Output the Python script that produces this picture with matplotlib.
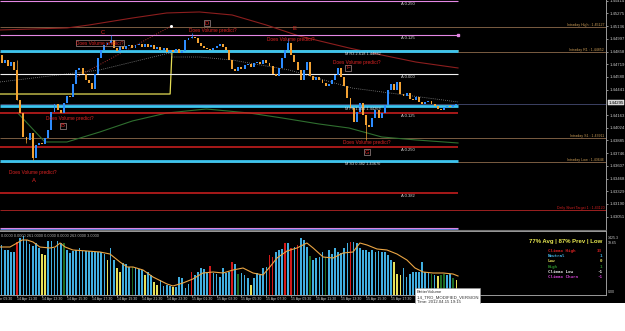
import matplotlib
matplotlib.use("Agg")
import matplotlib.pyplot as plt
import matplotlib.transforms as mtransforms
from matplotlib.patches import Rectangle

plt.rcParams['font.family'] = ['Liberation Sans', 'DejaVu Sans']

W, H = 625, 331

# ---- price pane: 15 min candles ----
first_open = 1.44820
closes = [
    1.44732, 1.44765, 1.44700, 1.44743, 1.44656, 1.44328, 1.44185, 1.43923, 1.43890, 1.43966,
    1.43693, 1.43835, 1.43857, 1.43846, 1.43912, 1.43999, 1.44196, 1.44284, 1.44218, 1.44185,
    1.44295, 1.44371, 1.44360, 1.44503, 1.44656, 1.44678, 1.44612, 1.44546, 1.44514, 1.44448,
    1.44612, 1.44787, 1.44875, 1.44929, 1.44951, 1.44984, 1.44897, 1.44864, 1.44919, 1.44886,
    1.44919, 1.44929, 1.44897, 1.44929, 1.44940, 1.44908, 1.44940, 1.44908, 1.44929, 1.44886,
    1.44908, 1.44875, 1.44897, 1.44853, 1.44875, 1.44853, 1.44886, 1.44842, 1.44864, 1.44984,
    1.45006, 1.45017, 1.45006, 1.44951, 1.44919, 1.44897, 1.44886, 1.44875, 1.44897, 1.44919,
    1.44940, 1.44908, 1.44875, 1.44765, 1.44667, 1.44645, 1.44689, 1.44667, 1.44711, 1.44722,
    1.44689, 1.44732, 1.44743, 1.44722, 1.44765, 1.44732, 1.44700, 1.44612, 1.44590, 1.44678,
    1.44787, 1.44875, 1.44951, 1.44820, 1.44743, 1.44656, 1.44546, 1.44656, 1.44743, 1.44590,
    1.44546, 1.44579, 1.44546, 1.44514, 1.44481, 1.44503, 1.44546, 1.44601, 1.44678, 1.44579,
    1.44481, 1.44349, 1.44240, 1.44087, 1.44196, 1.44295, 1.44163, 1.44054, 1.44032, 1.44131,
    1.44218, 1.44131, 1.44185, 1.44273, 1.44437, 1.44503, 1.44437, 1.44525, 1.44393, 1.44371,
    1.44404, 1.44338, 1.44328, 1.44360, 1.44306, 1.44284, 1.44306, 1.44317, 1.44284, 1.44262,
    1.44229, 1.44218, 1.44251, 1.44262, 1.44251, 1.44273, 1.44284,
]
wick_highs = {5: 1.44765, 35: 1.45039, 61: 1.45061, 92: 1.45006}
wick_lows = {8: 1.43857, 10: 1.43671, 117: 1.43890}
current_price = 1.44295

# moving averages / indicator lines (bar index, price)
slow_ma_x = [-0.5, 21, 28, 42, 53, 63.5, 74, 85, 95.5, 111.5, 122, 133, 146.5]
slow_ma_y = [1.45094, 1.45116, 1.45148, 1.45225, 1.45280, 1.45291, 1.45258, 1.45148,
             1.45028, 1.44897, 1.44820, 1.44743, 1.44678]
green_ma_x = [5.2, 13.9, 21, 31.5, 42, 53, 65.7, 79.5, 90, 101.9, 111.5, 122, 133, 146.5]
green_ma_y = [1.44185, 1.43868, 1.43868, 1.43977, 1.44098, 1.44185, 1.44229, 1.44185,
              1.44131, 1.44065, 1.44021, 1.43923, 1.43890, 1.43857]
grey_dot_x = [-0.5, 31.5, 53.9, 54.9, 63.5, 74, 92.3, 112.4, 146.5]
grey_dot_y = [1.44525, 1.44656, 1.44842, 1.44798, 1.44798, 1.44765, 1.44656, 1.44459, 1.44306]
red_dot_x = [23.5, 54.5]
red_dot_y = [1.44568, 1.45137]
step_x = [-0.5, 54.1, 54.7, 146.5]
step_y = [1.44393, 1.44393, 1.44864, 1.44864]

# horizontal levels
fib_levels = [1.45411, 1.45039, 1.44612, 1.44185, 1.43813, 1.43310]
fib_names = ["A 0.250", "A 0.125", "A 0.000", "A 0.125", "A 0.250", "A 0.382"]
pivot_levels = [1.44864, 1.44262, 1.43660]
pivot_names = ["M R3 2.618 1.44882", "M PP 1.000 1.44268", "M S3 0.382 1.43670"]
intraday_levels = [1.45127, 1.44853, 1.43911, 1.43646]
intraday_names = ["Intraday High : 1.45127", "Intraday R1 : 1.44852",
                  "Intraday S1 : 1.43911", "Intraday Low : 1.43646"]
target_level = 1.43120
target_name = "Daily Short Target 1 : 1.43120"

price_ticks = [1.45414, 1.45275, 1.45136, 1.44997, 1.44858, 1.44719, 1.44580, 1.44441,
               1.44163, 1.44024, 1.43885, 1.43746, 1.43607, 1.43468, 1.43329, 1.43190, 1.43051]

# ---- volume pane ----
volumes = [
    250, 225, 225, 215, 215, 265, 285, 295, 275, 255,
    245, 260, 235, 205, 200, 270, 270, 235, 270, 260,
    260, 225, 210, 220, 225, 235, 220, 220, 220, 215,
    215, 215, 215, 205, 175, 235, 175, 135, 115, 160,
    155, 140, 140, 135, 130, 125, 100, 115, 100, 65,
    50, 75, 45, 50, 45, 40, 40, 90, 85, 35,
    55, 115, 100, 115, 135, 130, 115, 145, 110, 105,
    90, 135, 110, 115, 165, 155, 105, 110, 100, 85,
    50, 85, 110, 100, 135, 140, 200, 190, 215, 225,
    230, 260, 260, 235, 240, 250, 285, 275, 240, 195,
    175, 185, 190, 215, 190, 225, 205, 235, 215, 210,
    235, 260, 265, 265, 260, 235, 225, 225, 215, 225,
    215, 220, 215, 215, 200, 175, 165, 105, 100, 135,
    90, 105, 115, 115, 115, 165, 115, 115, 105, 100,
    95, 100, 105, 100, 105, 85, 75,
]
vol_types = list(
    "NNNNNRNNNN" "NNNYYNNNNN" "GNNNNNNNNN" "NNNNYNNYYN" "NNGNNNYNNY"
    "YNNNNYNNNN" "NRNNNNNRNN" "NNNNRNGNNN" "YNNNNNRRNN" "NRNRNRNNNG"
    "NNNNGNNNNN" "NNRNNNNNNN" "NNNNNNYYYN" "NNNNNNNNGN" "YGGNNGY"
)
vol_ma_x = [-0.5, 2.7, 5, 6.6, 8.2, 10.1, 12.3, 15.5, 17.2, 18.8, 20.4, 22.9, 27.4, 31.6,
            34.8, 38, 40.3, 42.2, 45.4, 48.6, 53.1, 55, 58.2, 61.4, 64.6, 67.9, 71.1, 74.3,
            77.5, 80.7, 83.9, 86.1, 88.4, 91.6, 94.8, 98, 100, 103.2, 106.4, 109.6, 112.8,
            115, 117.3, 120.5, 123.7, 126.9, 130.1, 132.7, 135.3, 138.5, 141.7, 144.9, 146.5]
vol_ma_y = [240, 240, 260, 275, 275, 265, 240, 235, 240, 260, 240, 225, 220, 215,
            205, 165, 140, 140, 125, 90, 55, 45, 60, 80, 110, 115, 110, 125,
            135, 110, 100, 140, 185, 220, 235, 260, 235, 190, 185, 210, 215,
            260, 250, 230, 225, 205, 175, 135, 115, 110, 110, 105, 95]

legend_names = ["Climax High", "Neutral", "Low", "High", "Climax Low", "Climax Churn"]
legend_counts = ["33", "1", "0", "1", "-1", "-1"]
# the last two labels sit under the tooltip in the screenshot, so they are left out
time_labels = ["14 Apr 09:30", "14 Apr 11:30", "14 Apr 13:30", "14 Apr 15:30", "14 Apr 17:30",
               "14 Apr 19:30", "14 Apr 21:30", "14 Apr 23:30", "15 Apr 01:30", "15 Apr 03:30",
               "15 Apr 05:30", "15 Apr 07:30", "15 Apr 09:30", "15 Apr 11:30", "15 Apr 13:30",
               "15 Apr 15:30", "15 Apr 17:30"]


def fx(p):
    return p / W


def fy(p):
    return 1 - p / H


BULL, BEAR = "#2d8cff", "#f2a233"
VOL_COLORS = {"N": "#41aee0", "R": "#d41a1a", "Y": "#e6e05a", "G": "#1d6b22"}
GREY = "#9a9a9a"
XMIN, XMAX = -0.5, 194.0
N = len(closes)

fig = plt.figure(figsize=(W / 100, H / 100), dpi=100, facecolor="white")
fig.add_artist(Rectangle((0, fy(303)), 1, 303 / H, transform=fig.transFigure,
                         facecolor="black", edgecolor="none", zorder=-1))

# ---------------- price pane ----------------
ax = fig.add_axes([0, fy(229.5), fx(606), 229.5 / H])
ax.set_facecolor("black")
ax.set_xlim(XMIN, XMAX)
ax.set_ylim(1.42910, 1.45422)
for s in ["left", "top"]:
    ax.spines[s].set_visible(False)
ax.spines["right"].set_color(GREY)
ax.spines["bottom"].set_color("#707070")
ax.spines["right"].set_linewidth(0.7)
ax.set_xticks([])
ax.yaxis.tick_right()
ax.set_yticks(price_ticks)
ax.set_yticklabels([f"{p:.5f}" for p in price_ticks])
ax.tick_params(axis="y", labelsize=3.1, colors="#c8c8c8", length=1.5, width=0.5, pad=0.8)

end_bar = N - 0.5
# levels
fib_colors = ["#e487e4", "#e487e4", "#f0f0f0", "#d42020", "#d42020", "#d42020"]
ax.plot(step_x, step_y, color="#e4dc55", lw=0.9, zorder=2)
for p, name, c in zip(fib_levels, fib_names, fib_colors):
    ax.hlines(p, XMIN, end_bar, color=c, lw=1.1 if c == "#d42020" else 0.8, zorder=3)
    ax.text(130.4, p - 0.00012, name, color="#d8d8d8", fontsize=3, ha="center", va="top", zorder=6)
ax.plot([end_bar], [fib_levels[1]], marker="s", ms=1.6, color="#e487e4", zorder=4)
for p, name in zip(pivot_levels, pivot_names):
    ax.hlines(p, XMIN, end_bar, color="#3cc4ef", lw=2.0, zorder=3)
    ax.text(110.2, p - 0.00015, name, color="#d8d8d8", fontsize=2.8, ha="left", va="top", zorder=6)
for p, name in zip(intraday_levels, intraday_names):
    ax.hlines(p, XMIN, XMAX, color="#7a5c42", lw=0.7, zorder=2)
    ax.text(193.4, p + 0.00004, name, color="#c99a55", fontsize=2.6, ha="right", va="bottom", zorder=6)
ax.hlines(target_level, XMIN, XMAX, color="#9c2020", lw=0.7, zorder=2)
ax.text(193.4, target_level + 0.00004, target_name, color="#d42020", fontsize=2.6,
        ha="right", va="bottom", zorder=6)
ax.hlines(current_price - 0.00011, XMIN, XMAX, color="#3c4264", lw=0.7, zorder=2)
ax.hlines(1.42924, XMIN, end_bar, color="#e487e4", lw=0.8, zorder=3)
ax.hlines(1.42913, XMIN, end_bar, color="#5a7ad0", lw=0.8, zorder=3)

# indicator curves
ax.plot(slow_ma_x, slow_ma_y, color="#8c1e1e", lw=0.8, zorder=2)
ax.plot(green_ma_x, green_ma_y, color="#2f6f2f", lw=0.8, zorder=2)
ax.plot(grey_dot_x, grey_dot_y, color="#8a8a8a", lw=0.6, ls=(0, (1, 1.5)), zorder=2)
ax.plot(red_dot_x, red_dot_y, color="#a83030", lw=0.7, ls=(0, (1, 1.5)), zorder=2)
ax.plot([red_dot_x[-1]], [red_dot_y[-1]], "o", ms=1.2, color="white", zorder=4)

# candles
opens = [first_open] + closes[:-1]
for i, (o, c) in enumerate(zip(opens, closes)):
    col = BULL if c >= o else BEAR
    hi = wick_highs.get(i, max(o, c))
    lo = wick_lows.get(i, min(o, c))
    if hi > max(o, c) or lo < min(o, c):
        ax.vlines(i, lo, hi, color=col, lw=0.5, zorder=4)
    ax.bar(i, max(abs(c - o), 0.00003), bottom=min(o, c), width=0.62,
           color=col, linewidth=0, zorder=5)

ax.text(1.004, current_price, f"{current_price:.5f}", transform=mtransforms.blended_transform_factory(ax.transAxes, ax.transData),
        fontsize=3.1, color="black", ha="left", va="center", clip_on=False, zorder=7,
        bbox=dict(boxstyle="square,pad=0.12", fc="#cfcfcf", ec="#ffffff", lw=0.3))

# annotations
RED = "#e02424"
box = dict(boxstyle="square,pad=0.15", fc="none", ec="#a08a8a", lw=0.5)
notes = [(10.1, 1.43539, False), (22.0, 1.44120, False), (31.6, 1.44951, True),
         (67.9, 1.45083, False), (92.9, 1.44995, False), (114.0, 1.44743, False),
         (117.3, 1.43857, False)]
for x, p, boxed in notes:
    ax.text(x, p, "Does Volume predict?", color=RED, fontsize=3.4, ha="center", va="center",
            zorder=8, bbox=box if boxed else None)
letters = [("A", 10.4, 1.43441, False), ("B", 19.7, 1.44043, True), ("C", 32.5, 1.45061, False),
           ("D", 65.9, 1.45170, True), ("E", 93.9, 1.45105, False), ("F", 111.2, 1.44678, True),
           ("G", 117.3, 1.43758, True)]
for s, x, p, boxed in letters:
    ax.text(x, p, s, color=RED, fontsize=4.2, ha="center", va="center", zorder=8,
            bbox=box if boxed else None)

# ---------------- volume pane ----------------
av = fig.add_axes([0, fy(295), fx(606), (295 - 231) / H])
av.set_facecolor("black")
av.set_xlim(XMIN, XMAX)
av.set_ylim(0, 320)
av.spines["left"].set_visible(False)
for s in ["right", "top", "bottom"]:
    av.spines[s].set_color(GREY)
    av.spines[s].set_linewidth(0.7)
av.set_yticks([])
label_bars = [-3 + 8 * k for k in range(len(time_labels))]
av.set_xticks([b for b in label_bars if b >= XMIN])
av.set_xticklabels([])
av.tick_params(axis="x", length=1.5, width=0.5, colors=GREY)
av.bar(range(len(volumes)), volumes, width=0.55, color=[VOL_COLORS[t] for t in vol_types],
       linewidth=0, zorder=2)
av.plot(vol_ma_x, vol_ma_y, color="#eaa544", lw=0.8, zorder=3)

xt = mtransforms.blended_transform_factory(av.transData, av.transAxes)
for b, lab in zip(label_bars, time_labels):
    av.text(b, -0.03, lab, transform=xt, fontsize=2.5, color="#c8c8c8", ha="left", va="top",
            clip_on=False)

fig.text(fx(1), fy(236), "0.0000 0.0000 261.0000 0.0000 0.0000 263.0000 3.0000",
         fontsize=2.8, color="#b4b4b4", ha="left", va="center")
fig.text(fx(602), fy(241), "77% Avg | 87% Prev | Low", fontsize=4.3, fontweight="bold",
         color="#e8e850", ha="right", va="center")
leg_colors = ["#d42020", "#41aee0", "#e6e05a", "#2a8a2a", "#e6e6e6", "#d040d0"]
for k, (name, cnt, c) in enumerate(zip(legend_names, legend_counts, leg_colors)):
    yy = 251 + 5.2 * k
    fig.text(fx(548), fy(yy), name, fontsize=3.1, family="DejaVu Sans Mono", color=c,
             ha="left", va="center", fontweight="bold")
    fig.text(fx(602), fy(yy), cnt, fontsize=3.1, family="DejaVu Sans Mono", color=c,
             ha="right", va="center", fontweight="bold")
fig.text(fx(608), fy(238), "1425.3", fontsize=2.6, color="#c8c8c8", va="center")
fig.text(fx(608), fy(242.5), "19.65", fontsize=2.6, color="#c8c8c8", va="center")
fig.text(fx(608), fy(292), "0.00", fontsize=2.6, color="#c8c8c8", va="center")

# tooltip, cut by the screenshot edge
fig.add_artist(Rectangle((fx(415), fy(305)), fx(65), 17 / H, transform=fig.transFigure,
                         facecolor="white", edgecolor="#9a9a9a", lw=0.4, zorder=10))
for k, s in enumerate(["BetterVolume", "1.4_TRO_MODIFIED_VERSION", "Time: 2012.04.15 19:15"]):
    fig.text(fx(417), fy(292 + 5 * k), s, fontsize=3.1, color="#303030", ha="left",
             va="center", zorder=11)
fig.add_artist(Rectangle((0, 0), 1, fy(303.5), transform=fig.transFigure,
                         facecolor="white", edgecolor="none", zorder=12))

fig.savefig("out.png", dpi=100, facecolor="white")
